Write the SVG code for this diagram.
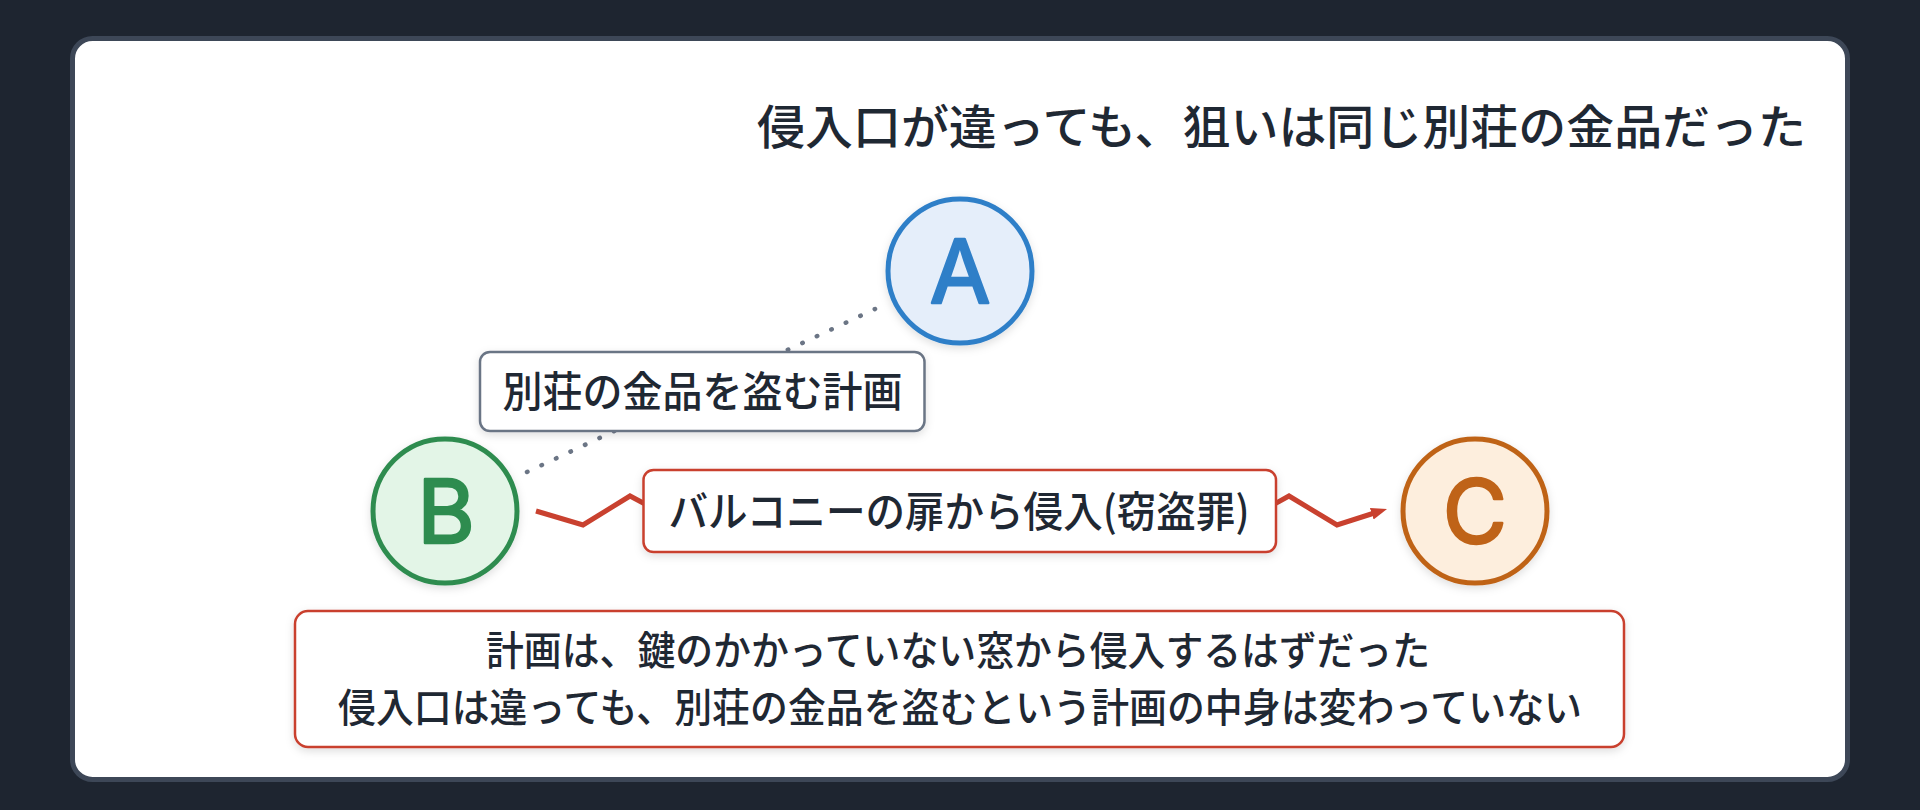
<svg xmlns="http://www.w3.org/2000/svg" width="1920" height="810" viewBox="0 0 1920 810">
  <defs>
    <style>
      .txt { font-family: "Noto Sans CJK JP", "Noto Sans", sans-serif; fill: #1f2833; font-weight: 500; }
      .letter { font-family: Inter, "Noto Sans", sans-serif; font-weight: 400; font-size: 88px; text-anchor: middle; stroke-width: 2.5; stroke-linejoin: round; }
      .box { fill: #ffffff; stroke-width: 2.5; }
      .circle { stroke-width: 5; }
    </style>
    <filter id="shadow" x="-20%" y="-20%" width="140%" height="150%">
      <feDropShadow dx="0" dy="3" stdDeviation="4" flood-color="#000000" flood-opacity="0.13"/>
    </filter>
    <marker id="arrow" markerUnits="userSpaceOnUse" markerWidth="18" markerHeight="14" refX="6" refY="6" orient="auto">
      <path d="M0,0 L16,6 L0,12 z" fill="#c9412f"/>
    </marker>
  </defs>

  <rect x="0" y="0" width="1920" height="810" fill="#1e2530"/>
  <rect x="72.5" y="38.5" width="1775" height="741" rx="20" ry="20" fill="#ffffff" stroke="#3d4757" stroke-width="5"/>

  <text class="txt" x="1806" y="144" font-size="47" text-anchor="end" textLength="1049" lengthAdjust="spacingAndGlyphs">侵入口が違っても、狙いは同じ別荘の金品だった</text>

  <g id="connectors">
    <line x1="527" y1="472" x2="875" y2="309" stroke="#6b7585" stroke-width="4.5" stroke-linecap="round" stroke-dasharray="0.5 15.5"/>
    <path d="M536,511 L583,525 L630,496 L660,512 L1260,512 L1289,496 L1337,525 L1377.5,512" fill="none" stroke="#c9412f" stroke-width="5" stroke-linejoin="miter" marker-end="url(#arrow)"/>
  </g>

  <g id="node-A">
    <circle class="circle" cx="960" cy="271" r="72" fill="#e5eefa" stroke="#2f7fc8" filter="url(#shadow)"/>
    <text class="letter" x="960" y="303" fill="#2f7fc8" stroke="#2f7fc8">A</text>
  </g>

  <g id="node-B">
    <circle class="circle" cx="445" cy="511" r="72" fill="#e3f5e7" stroke="#2e8c4f" filter="url(#shadow)"/>
    <text class="letter" x="446" y="543" fill="#2e8c4f" stroke="#2e8c4f">B</text>
  </g>

  <g id="node-C">
    <circle class="circle" cx="1475" cy="511" r="72" fill="#fdeedd" stroke="#bf6318" filter="url(#shadow)"/>
    <text class="letter" x="1475" y="543" fill="#bf6318" stroke="#bf6318">C</text>
  </g>

  <g id="label-plan">
    <rect class="box" x="480" y="352" width="444.5" height="79" rx="10" ry="10" stroke="#6b7585" filter="url(#shadow)"/>
    <text class="txt" x="702.5" y="407" font-size="42" text-anchor="middle" textLength="400" lengthAdjust="spacingAndGlyphs">別荘の金品を盗む計画</text>
  </g>

  <g id="label-balcony">
    <rect class="box" x="643.5" y="470" width="632.5" height="82" rx="10" ry="10" stroke="#c9412f" filter="url(#shadow)"/>
    <text class="txt" x="959" y="527" font-size="42" text-anchor="middle" textLength="581" lengthAdjust="spacingAndGlyphs">バルコニーの扉から侵入(窃盗罪)</text>
  </g>

  <g id="note">
    <rect class="box" x="295" y="611" width="1329" height="136" rx="13" ry="13" stroke="#c9412f" filter="url(#shadow)"/>
    <text class="txt" x="958" y="665" font-size="40" text-anchor="middle" textLength="944" lengthAdjust="spacingAndGlyphs">計画は、鍵のかかっていない窓から侵入するはずだった</text>
    <text class="txt" x="960" y="722" font-size="40" text-anchor="middle" textLength="1244" lengthAdjust="spacingAndGlyphs">侵入口は違っても、別荘の金品を盗むという計画の中身は変わっていない</text>
  </g>
</svg>
